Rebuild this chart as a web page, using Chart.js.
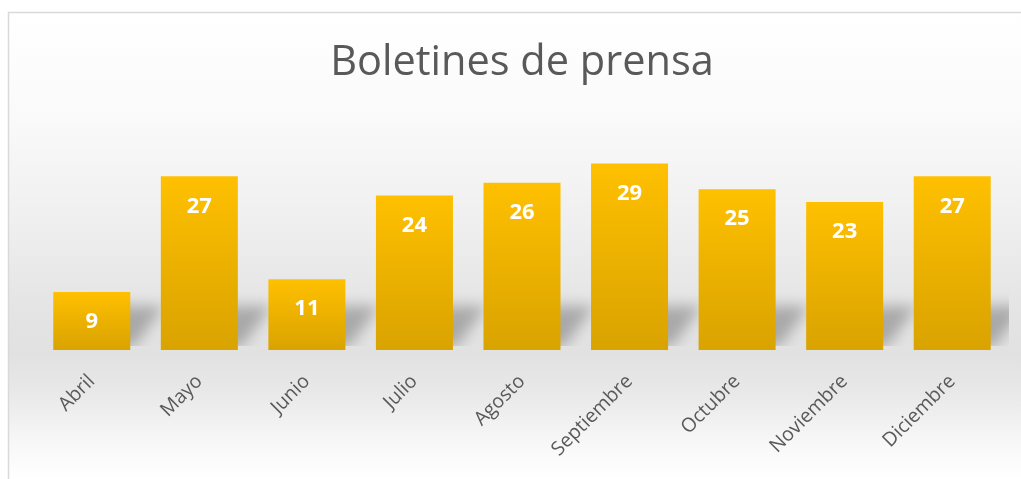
<!DOCTYPE html>
<html>
<head>
<meta charset="utf-8">
<script src="https://cdn.jsdelivr.net/npm/chart.js@4/dist/chart.umd.min.js"></script>
<style>
  html, body { margin: 0; padding: 0; background: #fff; }
  #wrap { width: 1021px; height: 479px; position: relative; }
</style>
</head>
<body>
<div id="wrap"><canvas id="boletinesChart" width="1021" height="479"></canvas></div>
<script>
const months = ['Abril', 'Mayo', 'Junio', 'Julio', 'Agosto', 'Septiembre', 'Octubre', 'Noviembre', 'Diciembre'];
const boletines = [9, 27, 11, 24, 26, 29, 25, 23, 27];
const yMax = 35;

// gray "floor" background, border and bar shadows
const backdrop = {
    id: 'backdrop',
    beforeDraw(chart) {
        const ctx = chart.ctx;
        const w = chart.width, h = chart.height;
        ctx.save();
        ctx.fillStyle = '#ffffff';
        ctx.fillRect(0, 0, w, h);
        const g = ctx.createLinearGradient(0, 12, 0, h);
        g.addColorStop(0, '#ffffff');
        g.addColorStop(0.22, '#fafafa');
        g.addColorStop(0.45, '#efefef');
        g.addColorStop(0.62, '#e5e5e5');
        g.addColorStop(0.73, '#e1e1e1');
        g.addColorStop(0.82, '#e9e9e9');
        g.addColorStop(0.92, '#f7f7f7');
        g.addColorStop(1, '#ffffff');
        ctx.fillStyle = g;
        ctx.fillRect(9, 13, w - 9, h - 13);
        ctx.strokeStyle = '#d9d9d9';
        ctx.lineWidth = 1.5;
        ctx.beginPath();
        ctx.moveTo(8.5, h);
        ctx.lineTo(8.5, 12.5);
        ctx.lineTo(w, 12.5);
        ctx.stroke();
        ctx.restore();
    },
    beforeDatasetsDraw(chart) {
        const ctx = chart.ctx;
        const meta = chart.getDatasetMeta(0);
        const area = chart.chartArea;
        ctx.save();
        ctx.beginPath();
        ctx.rect(area.left - 20, area.top, area.right - area.left + 23, area.bottom - area.top - 4);
        ctx.clip();
        ctx.filter = 'blur(7px)';
        ctx.fillStyle = 'rgba(0,0,0,0.26)';
        meta.data.forEach(bar => {
            const left = bar.x - bar.width / 2;
            const right = bar.x + bar.width / 2;
            const rise = Math.min(44, bar.base - bar.y);
            ctx.beginPath();
            ctx.moveTo(left + 8, bar.base - 4);
            ctx.lineTo(right + 4, bar.base - 4);
            ctx.lineTo(right + 34, bar.base - rise);
            ctx.lineTo(left + 34, bar.base - rise);
            ctx.closePath();
            ctx.fill();
        });
        ctx.restore();
    },
    afterDatasetsDraw(chart) {
        const ctx = chart.ctx;
        const meta = chart.getDatasetMeta(0);
        ctx.save();
        ctx.fillStyle = '#ffffff';
        ctx.font = 'bold 22px "Open Sans"';
        ctx.textAlign = 'center';
        ctx.textBaseline = 'middle';
        meta.data.forEach((bar, i) => {
            ctx.fillText(String(boletines[i]), bar.x, bar.y + 30);
        });
        ctx.restore();
    }
};

const ctx = document.getElementById('boletinesChart').getContext('2d');

new Chart(ctx, {
    type: 'bar',
    data: {
        labels: months,
        datasets: [{
            data: boletines,
            backgroundColor: function(context) {
                const chart = context.chart;
                if (!chart.chartArea) return '#f2b600';
                const yScale = chart.scales.y;
                const top = yScale.getPixelForValue(context.raw);
                const base = yScale.getPixelForValue(0);
                const g = chart.ctx.createLinearGradient(0, top, 0, base);
                g.addColorStop(0, '#ffc000');
                g.addColorStop(1, '#d9a300');
                return g;
            },
            borderWidth: 0,
            barPercentage: 0.716,
            categoryPercentage: 1.0
        }]
    },
    plugins: [backdrop],
    options: {
        responsive: false,
        animation: false,
        layout: {
            padding: { left: 38, right: 15, top: 38, bottom: 0 }
        },
        plugins: {
            legend: { display: false },
            tooltip: { enabled: false },
            title: {
                display: true,
                text: 'Boletines de prensa',
                color: '#595959',
                font: { family: '"Open Sans"', size: 41.5, weight: 'normal', lineHeight: 1.2 },
                padding: { top: 0, bottom: 37 }
            }
        },
        scales: {
            x: {
                grid: { display: false },
                border: { display: false },
                ticks: {
                    color: '#595959',
                    font: { family: '"Open Sans"', size: 19.5 },
                    maxRotation: 45,
                    minRotation: 45,
                    padding: 12
                },
                afterFit(scale) { scale.height = 129; }
            },
            y: {
                display: false,
                min: 0,
                max: yMax
            }
        }
    }
});
</script>
</body>
</html>
